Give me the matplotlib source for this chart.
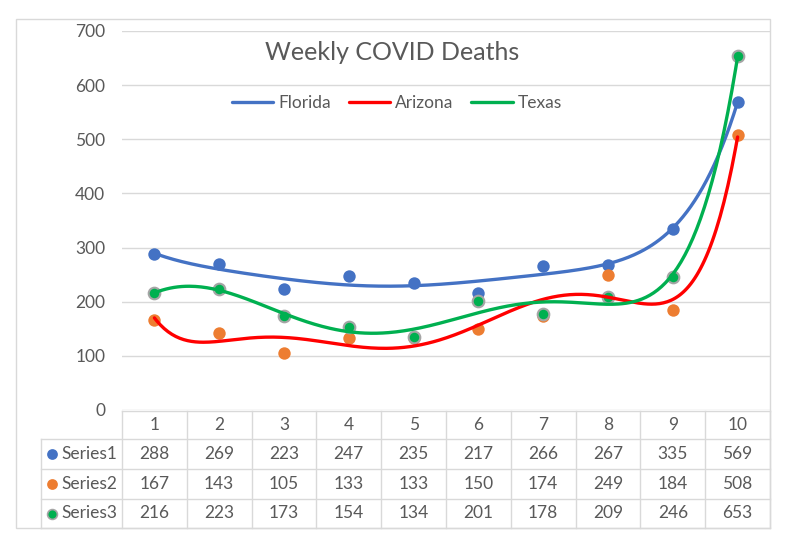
import matplotlib.pyplot as plt
from matplotlib.patches import Rectangle
import numpy as np

plt.rcParams['font.family'] = ['Lato', 'DejaVu Sans']

## Data
weeks = [1, 2, 3, 4, 5, 6, 7, 8, 9, 10]
series1 = [288, 269, 223, 247, 235, 217, 266, 267, 335, 569]
series2 = [167, 143, 105, 133, 133, 150, 174, 249, 184, 508]
series3 = [216, 223, 173, 154, 134, 201, 178, 209, 246, 653]
row_names = ['Series1', 'Series2', 'Series3']
trend_names = ['Florida', 'Arizona', 'Texas']
yticks = [0, 100, 200, 300, 400, 500, 600, 700]

blue = '#4472C4'
orange = '#ED7D31'
green = '#00B050'
red = '#FF0000'
grey = '#595959'
line = '#D9D9D9'

W, H = 787, 553
fig = plt.figure(figsize=(W / 100, H / 100), dpi=100)

def box(x0, y0, x1, y1):
	# pixel box -> figure fraction rect
	return [x0 / W, 1 - y1 / H, (x1 - x0) / W, (y1 - y0) / H]

# overlay in pixel coords for the frame and data table
tb = fig.add_axes([0, 0, 1, 1])
tb.set_xlim(0, W)
tb.set_ylim(H, 0)
tb.axis('off')

ax = fig.add_axes(box(122, 31, 770, 410))
ax.set_xlim(0.5, 10.5)
ax.set_ylim(0, 700)
ax.patch.set_alpha(0)
for s in ax.spines.values():
	s.set_visible(False)
ax.set_xticks([])
ax.set_yticks(yticks)
ax.tick_params(axis='y', length=0, pad=12, labelsize=12.5, labelcolor=grey)
ax.grid(axis='y', color=line, lw=1)
ax.set_axisbelow(True)

x = np.array(weeks, dtype=float)
xs = np.linspace(1, 10, 300)
ax.scatter(x, series1, s=80, color=blue, zorder=3, linewidths=0)
ax.scatter(x, series2, s=80, color=orange, zorder=3, linewidths=0)
ax.scatter(x, series3, s=70, color=green, edgecolors='#A5A5A5', linewidths=1.5, zorder=3)

# polynomial trendlines (order 6, as Excel does)
for ys, c, name in zip([series1, series2, series3], [blue, red, green], trend_names):
	p = np.polyfit(x, ys, 6)
	ax.plot(xs, np.polyval(p, xs), color=c, lw=2.4, label=name, zorder=4,
		solid_capstyle='round')

fig.text(392 / W, 1 - 53 / H, 'Weekly COVID Deaths', ha='center', va='center',
	fontsize=18, color=grey)
ax.legend(loc='center', bbox_to_anchor=(397 / W, 1 - 103 / H),
	bbox_transform=fig.transFigure, ncol=3, frameon=False, fontsize=12.5,
	handlelength=2.4, columnspacing=1.0, handletextpad=0.3,
	labelcolor=grey)

# frame
tb.add_patch(Rectangle((16, 19), 754, 509, fill=False, ec=line, lw=1))

# data table
rows_y = [411, 439, 469, 499, 528]
col_x = [122 + 64.8 * k for k in range(11)]
tb.plot([122, 770], [rows_y[0]] * 2, color=line, lw=1)
for yy in rows_y[1:]:
	tb.plot([41, 770], [yy] * 2, color=line, lw=1)
tb.plot([41, 41], [rows_y[1], rows_y[-1]], color=line, lw=1)
for xx in col_x:
	tb.plot([xx, xx], [rows_y[0], rows_y[-1]], color=line, lw=1)

for k, w in enumerate(weeks):
	cx = (col_x[k] + col_x[k + 1]) / 2
	tb.text(cx, (rows_y[0] + rows_y[1]) / 2, str(w), ha='center', va='center',
		fontsize=12.5, color=grey)
	for r, vals in enumerate([series1, series2, series3]):
		tb.text(cx, (rows_y[r + 1] + rows_y[r + 2]) / 2, str(vals[k]),
			ha='center', va='center', fontsize=12.5, color=grey)

for r, (name, c) in enumerate(zip(row_names, [blue, orange, green])):
	cy = (rows_y[r + 1] + rows_y[r + 2]) / 2
	if r == 2:
		tb.scatter([52], [cy], s=50, color=c, edgecolors='#A5A5A5', linewidths=1.2)
	else:
		tb.scatter([52], [cy], s=60, color=c, linewidths=0)
	tb.text(61, cy, name, ha='left', va='center', fontsize=12.5, color=grey)

fig.savefig('out.png', dpi=100)
